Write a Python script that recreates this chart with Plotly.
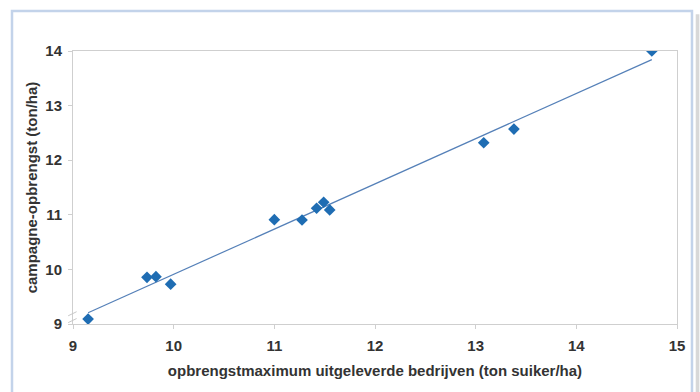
import numpy as np
import plotly.graph_objects as go

# data
x_max = [9.15, 9.735, 9.824, 9.97, 11.0, 11.275, 11.42, 11.49, 11.55, 13.08, 13.38, 14.75]
y_camp = [9.09, 9.855, 9.866, 9.73, 10.91, 10.905, 11.12, 11.23, 11.09, 12.32, 12.57, 14.0]
x_ticks = [9, 10, 11, 12, 13, 14, 15]
y_ticks = [9, 10, 11, 12, 13, 14]

slope, intercept = np.polyfit(x_max, y_camp, 1)
trend_x = [min(x_max), max(x_max)]
trend_y = [slope * v + intercept for v in trend_x]

fig = go.Figure()
fig.add_trace(go.Scatter(x=trend_x, y=trend_y, mode="lines",
                         line=dict(color="#5580b8", width=1.2), hoverinfo="skip"))
fig.add_trace(go.Scatter(x=x_max, y=y_camp, mode="markers",
                         marker=dict(symbol="diamond", size=9, color="#1f6db3")))

fam = "Liberation Sans, Arial, sans-serif"
tick_font = dict(family=fam, size=15, color="#333333", weight="bold")
title_font = dict(family=fam, size=15, color="#333333", weight="bold")
fig.update_xaxes(range=[9, 15], tickvals=x_ticks, showgrid=False, zeroline=False,
                 showline=True, linecolor="#cfcfcf", linewidth=1, mirror=True,
                 ticks="outside", ticklen=4, tickcolor="#cfcfcf", automargin=False,
                 tickfont=tick_font, ticklabelstandoff=4,
                 title=dict(text="opbrengstmaximum uitgeleverde bedrijven (ton suiker/ha)",
                            font=title_font, standoff=12))
fig.update_yaxes(range=[9, 14], tickvals=y_ticks, showgrid=False, zeroline=False,
                 showline=True, linecolor="#cfcfcf", linewidth=1, mirror=True,
                 ticks="outside", ticklen=4, tickcolor="#cfcfcf", automargin=False,
                 tickfont=tick_font, ticklabelstandoff=3,
                 title=dict(text="campagne-opbrengst (ton/ha)", font=title_font, standoff=4))

# outer frame and shadow
fig.add_shape(type="rect", xref="paper", yref="paper", x0=1.031, x1=1.037, y0=-0.3, y1=1.135,
              line=dict(width=0), fillcolor="#d8d8d8", layer="below")
fig.add_shape(type="rect", xref="paper", yref="paper", x0=-0.101, x1=1.0248, y0=-0.3, y1=1.1465,
              line=dict(color="#c3d3ea", width=2.5), fillcolor="rgba(0,0,0,0)", layer="below")
# axis break mark
fig.add_shape(type="path", xref="paper", yref="paper",
              path="M -0.008 0.005 L 0.006 0.02 M -0.008 0.03 L 0.006 0.045",
              line=dict(color="#c8c8c8", width=1))

fig.update_layout(width=700, height=392, margin=dict(l=73, r=23, t=51, b=68),
                  paper_bgcolor="white", plot_bgcolor="white", showlegend=False)
fig.write_html("out.html", config={"displayModeBar": False},
               post_script="document.body.style.margin='0';")
